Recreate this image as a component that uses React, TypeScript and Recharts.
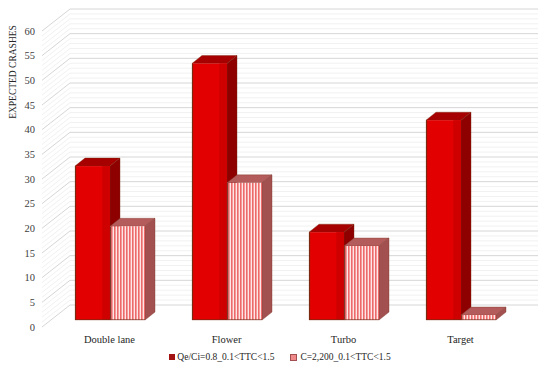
import React from 'react';
import {
  BarChart,
  Bar,
  XAxis,
  YAxis,
  CartesianGrid,
  Legend,
  Label,
} from 'recharts';

const categories = ['Double lane', 'Flower', 'Turbo', 'Target'];
const qeCiValues = [31.2, 52, 17.8, 40.5];
const capacityValues = [19, 27.8, 15, 1];
const seriesNames = ['Qe/Ci=0.8_0.1<TTC<1.5', 'C=2,200_0.1<TTC<1.5'];
const yTicks = [0, 5, 10, 15, 20, 25, 30, 35, 40, 45, 50, 55, 60];
// minor grid every unit
const gridValues = Array.from({ length: 61 }, (_, i) => i);

const data = categories.map((name, i) => ({
  name,
  qe: qeCiValues[i],
  cap: capacityValues[i],
}));

const FONT = '"Liberation Serif", "DejaVu Serif", serif';

// 3D depth offsets (oblique projection)
const WALL_BACK = { dx: 19, dy: -15 };
const WALL_FRONT = { dx: -9, dy: 7 };
const BAR_DEPTH = { dx: 10, dy: -8 };

const WallLine = (props: any) => {
  const { x1, x2, y1, index } = props;
  const v = gridValues[index];
  const major = v % 5 === 0;
  const stroke = major ? '#d6d6d6' : '#f1f1f1';
  return (
    <g key={`wall-${index}`}>
      <line
        x1={x1 + WALL_FRONT.dx}
        y1={y1 + WALL_FRONT.dy}
        x2={x1 + WALL_BACK.dx}
        y2={y1 + WALL_BACK.dy}
        stroke={stroke}
        strokeWidth={1}
      />
      <line
        x1={x1 + WALL_BACK.dx}
        y1={y1 + WALL_BACK.dy}
        x2={x2 + WALL_BACK.dx}
        y2={y1 + WALL_BACK.dy}
        stroke={stroke}
        strokeWidth={1}
      />
    </g>
  );
};

const YTick = (props: any) => {
  const { y, payload } = props;
  return (
    <text
      x={35}
      y={y + WALL_FRONT.dy}
      textAnchor="end"
      dominantBaseline="central"
      fontFamily={FONT}
      fontSize={10.5}
      fill="#404040"
    >
      {payload.value}
    </text>
  );
};

const XTick = (props: any) => {
  const { x, payload } = props;
  return (
    <text
      x={x}
      y={339}
      textAnchor="middle"
      dominantBaseline="central"
      fontFamily={FONT}
      fontSize={10.5}
      fill="#262626"
    >
      {payload.value}
    </text>
  );
};

const makeBox = (front: string, top: string, side: string, edge: string, band?: string) =>
  (props: any) => {
    const { x, y, width, height } = props;
    if (height == null || height <= 0) return null;
    const { dx, dy } = BAR_DEPTH;
    return (
      <g>
        <polygon
          points={`${x},${y} ${x + width},${y} ${x + width + dx},${y + dy} ${x + dx},${y + dy}`}
          fill={top}
          stroke={edge}
          strokeWidth={0.4}
        />
        <polygon
          points={`${x + width},${y} ${x + width + dx},${y + dy} ${x + width + dx},${y + height + dy} ${x + width},${y + height}`}
          fill={side}
          stroke={edge}
          strokeWidth={0.4}
        />
        <rect x={x} y={y} width={width} height={height} fill={front} />
        {band && (
          <rect x={x + width * 0.78} y={y} width={width * 0.22} height={height} fill={band} />
        )}
        <line x1={x + 0.5} y1={y} x2={x + 0.5} y2={y + height} stroke={edge} strokeWidth={1.2} />
        <line x1={x} y1={y + height - 0.3} x2={x + width} y2={y + height - 0.3} stroke={edge} strokeWidth={0.8} />
      </g>
    );
  };

const RedBox = makeBox('#e20000', '#a60000', '#8e0000', '#7a2a10', '#cf0000');
const PinkBox = makeBox('url(#pinkStripes)', '#b45c5c', '#a35050', '#7d3a2a');

const LegendContent = () => (
  <div
    style={{
      display: 'flex',
      justifyContent: 'center',
      gap: 16,
      fontFamily: FONT,
      fontSize: 9.5,
      color: '#262626',
      marginLeft: 0,
      paddingTop: 6,
    }}
  >
    <span style={{ display: 'flex', alignItems: 'center' }}>
      <span style={{ width: 6, height: 6, background: '#a31212', marginRight: 2 }} />
      {seriesNames[0]}
    </span>
    <span style={{ display: 'flex', alignItems: 'center' }}>
      <span
        style={{
          width: 5,
          height: 5,
          background: '#f08a8a',
          border: '1px solid #a05050',
          marginRight: 3,
        }}
      />
      {seriesNames[1]}
    </span>
  </div>
);

const AxisTitle = () => (
  <text
    x={13}
    y={72}
    transform="rotate(-90 13 72)"
    textAnchor="middle"
    dominantBaseline="central"
    fontFamily={FONT}
    fontSize={9.5}
    fill="#262626"
  >
    EXPECTED CRASHES
  </text>
);

export default function App() {
  return (
    <div style={{ position: 'absolute', left: 0, top: 0, width: 550, height: 369, background: '#fff' }}>
      <BarChart
        width={550}
        height={369}
        data={data}
        margin={{ top: 24, right: 31, left: 41, bottom: 3 }}
        barCategoryGap={24}
        barGap={0}
      >
        <defs>
          <pattern id="pinkStripes" patternUnits="userSpaceOnUse" width={3} height={4}>
            <rect x={0} y={0} width={3} height={4} fill="#ffe6e6" />
            <rect x={0} y={0} width={1.6} height={4} fill="#ec6a6a" />
          </pattern>
        </defs>
        <CartesianGrid
          vertical={false}
          horizontal={(p: any) => <WallLine {...p} />}
          horizontalValues={gridValues}
        />
        <XAxis
          dataKey="name"
          axisLine={false}
          tickLine={false}
          height={26}
          tick={<XTick />}
          interval={0}
        />
        <YAxis
          width={10}
          domain={[0, 60]}
          ticks={yTicks}
          axisLine={false}
          tickLine={false}
          tick={<YTick />}
          interval={0}
        >
          <Label content={<AxisTitle />} />
        </YAxis>
        <Legend verticalAlign="bottom" height={20} content={<LegendContent />} />
        <Bar dataKey="qe" name={seriesNames[0]} shape={RedBox} isAnimationActive={false} />
        <Bar dataKey="cap" name={seriesNames[1]} shape={PinkBox} isAnimationActive={false} />
      </BarChart>
    </div>
  );
}
